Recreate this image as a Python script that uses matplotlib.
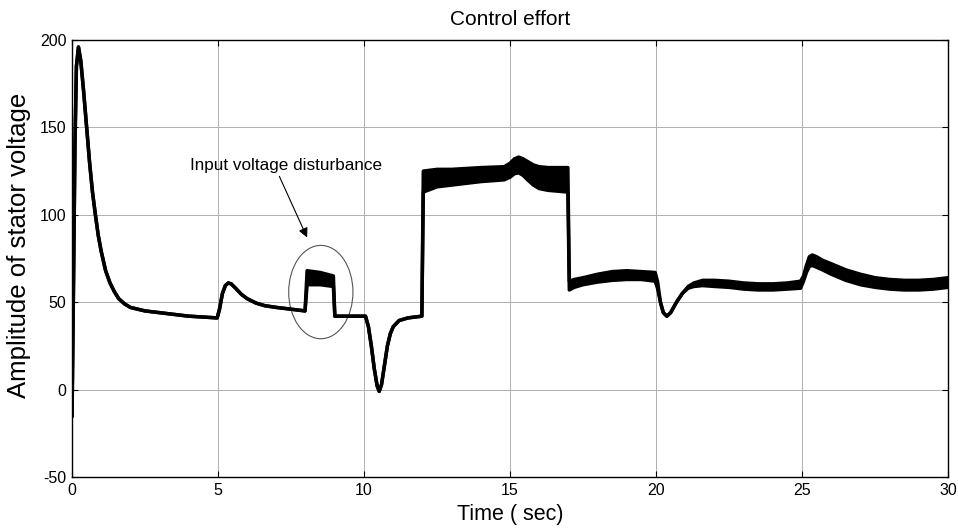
import matplotlib
matplotlib.use('Agg')
import matplotlib.pyplot as plt
from matplotlib.patches import Ellipse

plt.rcParams['font.family'] = ['Liberation Sans', 'DejaVu Sans']
plt.rcParams['axes.unicode_minus'] = False

# ===== Data =====
# time (s), lower and upper envelope of the control signal (thick band where it chatters)
t_pts = [0.0, 0.05, 0.1, 0.15, 0.22, 0.3, 0.4, 0.5, 0.6, 0.7, 0.8, 0.9, 1.0, 1.15, 1.3, 1.45,
         1.6, 1.8, 2.0, 2.5, 3.0, 3.5, 4.0, 4.5, 4.97,
         5.05, 5.15, 5.25, 5.35, 5.45, 5.6, 5.8, 6.0, 6.3, 6.6, 7.0, 7.5, 7.98,
         8.05, 8.5, 8.95, 9.0, 9.5,
         10.05, 10.15, 10.25, 10.35, 10.45, 10.52, 10.6, 10.7, 10.8, 10.9, 11.0, 11.2, 11.5, 11.98,
         12.03, 12.5, 13.0, 14.0, 14.8, 15.0, 15.15, 15.3, 15.45, 15.6, 15.8, 16.0, 16.3, 16.98,
         17.03, 17.2, 17.5, 18.0, 18.5, 19.0, 19.5, 19.97,
         20.05, 20.15, 20.25, 20.37, 20.5, 20.7, 20.9, 21.1, 21.3, 21.6, 22.0, 22.5, 23.0, 23.5,
         24.0, 24.5, 24.95,
         25.05, 25.15, 25.25, 25.35, 25.5, 25.7, 26.0, 26.5, 27.0, 27.5, 28.0, 28.5, 29.0, 29.5, 30.0]
v_lo = [-15, 60, 140, 185, 196, 188, 170, 150, 130, 113, 100, 88, 79, 68, 61, 56,
        52, 49, 47, 45, 44, 43, 42, 41.5, 41,
        46, 55, 59.5, 61, 60.5, 58, 54.5, 52, 49.5, 48, 47, 46, 45,
        60, 60, 59, 42, 42,
        42, 36, 25, 12, 2, -1, 3, 14, 25, 32, 36, 39.5, 41, 42,
        113, 116, 117, 119, 120, 121.5, 123.5, 124, 122.5, 120, 117, 115, 114, 113,
        57, 58.5, 60, 61.5, 62.5, 63, 63, 62,
        58, 50, 44, 42, 44, 50, 55, 58, 59, 59.5, 59, 58.5, 57.5, 57,
        57, 57.5, 58,
        62, 67, 70.5, 71, 70, 68.5, 66, 62.5, 60, 58.5, 57.5, 57, 57, 57.5, 58.5]
v_hi = [-15, 60, 140, 185, 196, 188, 170, 150, 130, 113, 100, 88, 79, 68, 61, 56,
        52, 49, 47, 45, 44, 43, 42, 41.5, 41,
        46, 55, 59.5, 61, 60.5, 58, 54.5, 52, 49.5, 48, 47, 46, 45,
        68, 67, 65, 42, 42,
        42, 36, 25, 12, 2, -1, 3, 14, 25, 32, 36, 39.5, 41, 42,
        125, 126, 126, 127, 127.5, 129.5, 132, 133, 132, 130.5, 128.5, 127.5, 127, 127,
        62, 63, 64, 66, 67.5, 68, 67.5, 67,
        62, 50, 44, 42, 44, 50, 55, 59, 61, 62.5, 62.5, 62, 61, 60.5,
        60.5, 61, 62,
        65, 71, 76, 77, 76, 74, 72, 68.5, 66, 64, 63, 62.5, 62.5, 63, 64]

x_ticks = [0, 5, 10, 15, 20, 25, 30]
y_ticks = [-50, 0, 50, 100, 150, 200]

# ===== Plot =====
fig = plt.figure(figsize=(9.58, 5.29), dpi=100)
ax = fig.add_axes([0.0752, 0.0983, 0.9144, 0.8261])

ax.fill_between(t_pts, v_lo, v_hi, color='black', linewidth=0)
ax.plot(t_pts, v_lo, color='black', linewidth=2.5, solid_joinstyle='round')
ax.plot(t_pts, v_hi, color='black', linewidth=2.5, solid_joinstyle='round')

ax.set_xlim(0, 30)
ax.set_ylim(-50, 200)
ax.set_xticks(x_ticks)
ax.set_yticks(y_ticks)
ax.grid(True, color='#b0b0b0', linewidth=0.7)
ax.set_axisbelow(True)
ax.tick_params(direction='in', top=True, right=True, length=4, width=0.8,
               labelsize=11.5, pad=4)
for s in ax.spines.values():
    s.set_linewidth(1.0)

ax.set_title('Control effort', fontsize=15, pad=11)
ax.set_xlabel('Time ( sec)', fontsize=15.5)
ax.set_ylabel('Amplitude of stator voltage', fontsize=18.5)
ax.xaxis.set_label_coords(0.5, -0.062)
ax.yaxis.set_label_coords(-0.047, 0.53)

# disturbance annotation
ax.add_patch(Ellipse((8.52, 55.8), 2.2, 53.4, fill=False, edgecolor='#555555', linewidth=0.8))
ax.annotate('', xy=(8.05, 87), xytext=(7.1, 122),
            arrowprops=dict(arrowstyle='-|>', color='black', lw=0.8, mutation_scale=14,
                            shrinkA=0, shrinkB=0))
ax.text(4.05, 128, 'Input voltage disturbance', fontsize=12.3, ha='left', va='center')

plt.savefig('out.png', dpi=100)
